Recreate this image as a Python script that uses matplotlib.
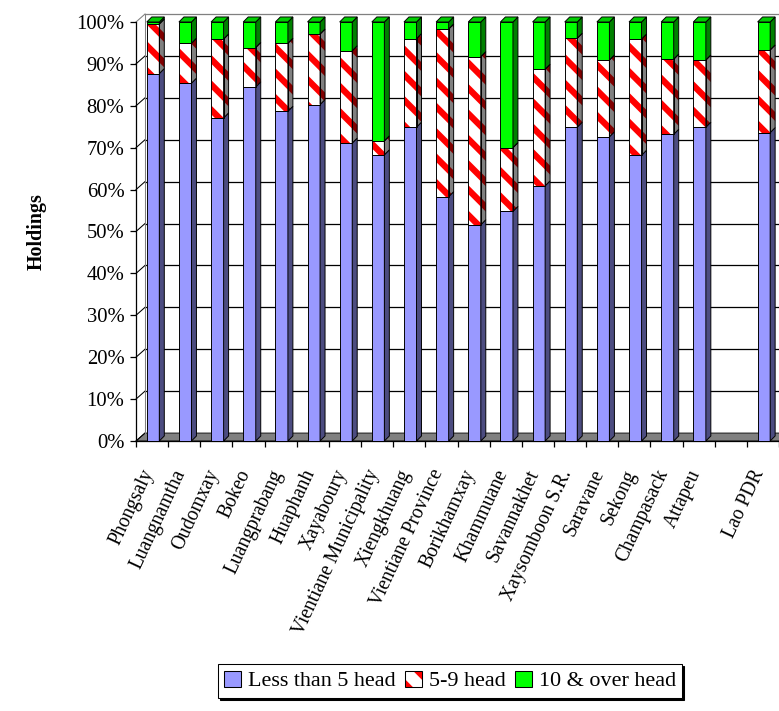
import numpy as np
import matplotlib.pyplot as plt
from matplotlib.patches import Patch, Polygon
from matplotlib.legend_handler import HandlerTuple
from matplotlib.ticker import FixedLocator, FixedFormatter, NullFormatter, MultipleLocator, PercentFormatter

plt.rcParams['font.family'] = ['Liberation Serif', 'DejaVu Serif']
plt.rcParams['hatch.linewidth'] = 6.0

provinces = ['Phongsaly', 'Luangnamtha', 'Oudomxay', 'Bokeo', 'Luangprabang', 'Huaphanh',
             'Xayaboury', 'Vientiane Municipality', 'Xiengkhuang', 'Vientiane Province',
             'Borikhamxay', 'Khammuane', 'Savannakhet', 'Xaysomboon S.R.', 'Saravane',
             'Sekong', 'Champasack', 'Attapeu', '', 'Lao PDR']
less5 = [87.7, 85.4, 77.1, 84.5, 78.7, 80.3, 71.1, 68.3, 74.9, 58.3,
         51.6, 54.8, 60.9, 74.9, 72.6, 68.2, 73.2, 74.9, 0, 73.6]
head5_9 = [11.8, 9.5, 18.8, 9.4, 16.2, 16.8, 22.0, 3.3, 21.1, 40.0,
           40.1, 15.2, 27.8, 21.2, 18.3, 27.7, 17.9, 16.0, 0, 19.7]
over10 = [0.5, 5.1, 4.1, 6.1, 5.1, 2.9, 6.9, 28.4, 4.0, 1.7,
          8.3, 30.0, 11.3, 3.9, 9.1, 4.1, 8.9, 9.1, 0, 6.7]
legend_labels = ['Less than 5 head', '5-9 head', '10 & over head']

W, H, DPI = 779, 711, 76
fig = plt.figure(figsize=(W / DPI, H / DPI), dpi=DPI)
ax = fig.add_axes([136 / W, 1 - 441 / H, 643 / W, 419 / H])

x = np.arange(len(provinces))
xmin, xmax = -0.5, len(provinces) - 0.5
ax.set_xlim(xmin, xmax)
ax.set_ylim(0, 100)

# fake 3d depth: walls and bars
dxw, dyw = 0.28, 1.9
dxb, dyb = 0.155, 1.2
bw = 0.39
xc = x + 0.03

# floor + back wall + left wall
ax.add_patch(Polygon([(xmin, 0), (xmax, 0), (xmax + dxw, dyw), (xmin + dxw, dyw)],
                     closed=True, fc='#808080', ec='black', lw=0.8, zorder=1, clip_on=False))
for v in range(10, 101, 10):
    col = '#808080' if v == 100 else 'black'
    ax.plot([xmin + dxw, xmax + dxw], [v + dyw, v + dyw], color=col, lw=1.2, zorder=1, clip_on=False)
for v in range(0, 101, 10):
    col = '#808080' if v == 100 else 'black'
    ax.plot([xmin, xmin + dxw], [v, v + dyw], color=col, lw=1.0, zorder=1, clip_on=False)
ax.plot([xmin + dxw, xmin + dxw], [dyw, 100 + dyw], color='#808080', lw=1.0, zorder=1, clip_on=False)

series = [
    (less5, '#9999FF', '#4C4C80', None, None),
    (head5_9, 'white', '#808080', 'red', '#800000'),
    (over10, '#00FF00', '#008000', None, None),
]
bottom = np.zeros(len(x))
for vals, face, side, hcol, hside in series:
    vals = np.array(vals, dtype=float)
    keep = vals > 0
    if hcol:
        ax.bar(xc[keep], vals[keep], bw, bottom=bottom[keep], color=face, edgecolor=hcol,
               hatch='\\', lw=0, zorder=3)
        ax.bar(xc[keep], vals[keep], bw, bottom=bottom[keep], fill=False, edgecolor='black',
               lw=0.9, zorder=4)
    else:
        ax.bar(xc[keep], vals[keep], bw, bottom=bottom[keep], color=face, edgecolor='black',
               lw=0.9, zorder=3)
    for i in np.where(keep)[0]:
        xr = xc[i] + bw / 2
        y0, y1 = bottom[i], bottom[i] + vals[i]
        pts = [(xr, y0), (xr + dxb, y0 + dyb), (xr + dxb, y1 + dyb), (xr, y1)]
        if hcol:
            ax.add_patch(Polygon(pts, closed=True, fc=side, ec=hside, hatch='\\', lw=0,
                                 zorder=3, clip_on=False))
            ax.add_patch(Polygon(pts, closed=True, fill=False, ec='black', lw=0.9,
                                 zorder=4, clip_on=False))
        else:
            ax.add_patch(Polygon(pts, closed=True, fc=side, ec='black', lw=0.9,
                                 zorder=3, clip_on=False))
    bottom = bottom + vals

# top caps
for i in range(len(x)):
    if bottom[i] <= 0:
        continue
    xl, xr, yt = xc[i] - bw / 2, xc[i] + bw / 2, bottom[i]
    ax.add_patch(Polygon([(xl, yt), (xr, yt), (xr + dxb, yt + dyb), (xl + dxb, yt + dyb)],
                         closed=True, fc='#00CC00', ec='black', lw=0.9, zorder=4, clip_on=False))

for s in ['top', 'right']:
    ax.spines[s].set_visible(False)
ax.spines['left'].set_linewidth(1.2)
ax.spines['bottom'].set_linewidth(1.2)

ax.yaxis.set_major_locator(MultipleLocator(10))
ax.yaxis.set_major_formatter(PercentFormatter(decimals=0))
ax.tick_params(axis='y', length=6, width=1.2, pad=5, labelsize=19.5)

ax.xaxis.set_major_locator(FixedLocator(np.arange(xmin, xmax + 0.01, 1)))
ax.xaxis.set_major_formatter(NullFormatter())
ax.xaxis.set_minor_locator(FixedLocator(x - 0.08))
ax.xaxis.set_minor_formatter(FixedFormatter(provinces))
ax.tick_params(axis='x', which='major', length=6, width=1.2)
ax.tick_params(axis='x', which='minor', length=0, pad=28, labelsize=18.5)
plt.setp(ax.get_xticklabels(minor=True), rotation=65, ha='right', va='center',
         rotation_mode='anchor')

ax.set_ylabel('Holdings', fontweight='bold', fontsize=19)
ax.yaxis.set_label_coords(-(136 - 47) / 643, 0.5)

handles = [Patch(fc='#9999FF', ec='black'),
           (Patch(fc='white', ec='red', hatch='\\', lw=0), Patch(fill=False, ec='black')),
           Patch(fc='#00FF00', ec='black')]
fig.legend(handles, legend_labels, loc='center', bbox_to_anchor=(450 / W, 1 - 681 / H),
           ncol=3, fontsize=21, frameon=True, fancybox=False, edgecolor='black',
           shadow={'color': 'black', 'alpha': 1}, handlelength=0.75, handleheight=0.75,
           handletextpad=0.3, columnspacing=0.45, borderpad=0.3,
           handler_map={tuple: HandlerTuple(ndivide=1, pad=0)})

fig.savefig('out.png', dpi=DPI)
